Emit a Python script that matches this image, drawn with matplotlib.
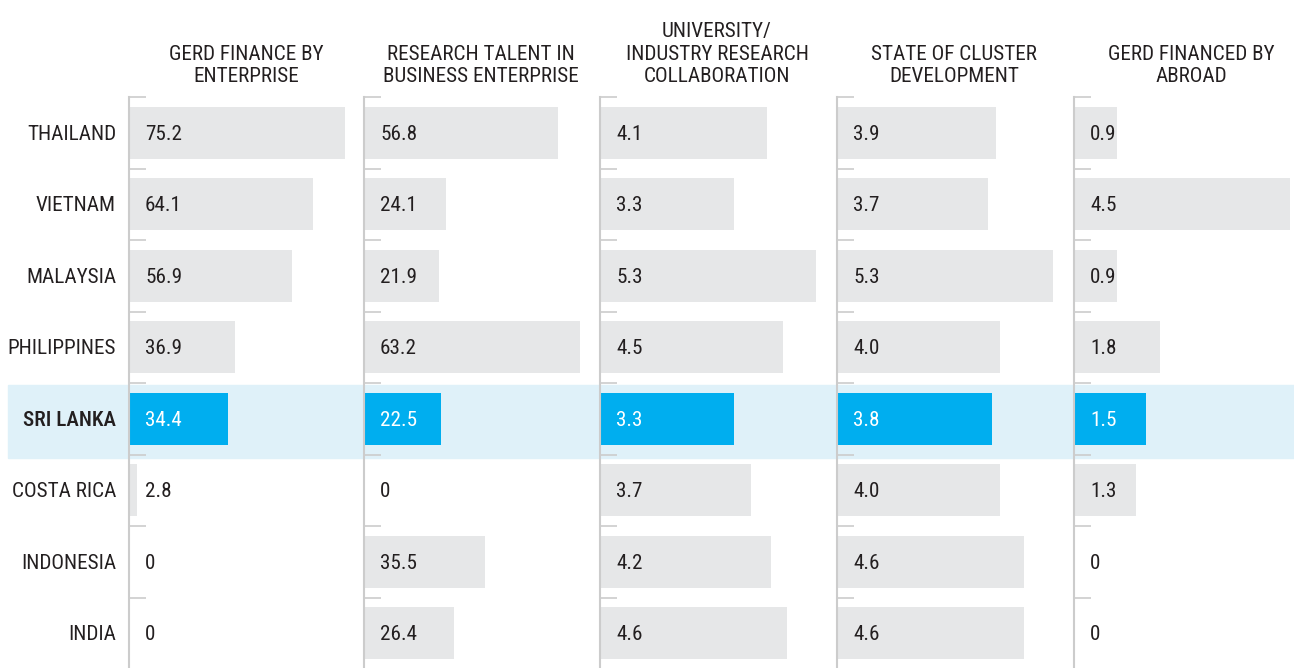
import matplotlib.pyplot as plt
from matplotlib.patches import Rectangle
from matplotlib.transforms import offset_copy

plt.rcParams["font.family"] = ["Roboto Condensed", "Open Sans Condensed",
                               "Arial Narrow", "Roboto", "DejaVu Sans"]
FSIZE = 15.2

# ---- Data ----
countries = ["THAILAND", "VIETNAM", "MALAYSIA", "PHILIPPINES",
             "SRI LANKA", "COSTA RICA", "INDONESIA", "INDIA"]
titles = ["GERD FINANCE BY\nENTERPRISE",
          "RESEARCH TALENT IN\nBUSINESS ENTERPRISE",
          "UNIVERSITY/\nINDUSTRY RESEARCH\nCOLLABORATION",
          "STATE OF CLUSTER\nDEVELOPMENT",
          "GERD FINANCED BY\nABROAD"]
gerd_enterprise = [75.2, 64.1, 56.9, 36.9, 34.4, 2.8, 0, 0]
research_talent = [56.8, 24.1, 21.9, 63.2, 22.5, 0, 35.5, 26.4]
univ_collab = [4.1, 3.3, 5.3, 4.5, 3.3, 3.7, 4.2, 4.6]
cluster_dev = [3.9, 3.7, 5.3, 4.0, 3.8, 4.0, 4.6, 4.6]
gerd_abroad = [0.9, 4.5, 0.9, 1.8, 1.5, 1.3, 0, 0]
series = [gerd_enterprise, research_talent, univ_collab, cluster_dev, gerd_abroad]
labels = [["0" if v == 0 else f"{v:.1f}" for v in s] for s in series]
highlight = "SRI LANKA"

GREY = "#e6e7e8"
BLUE = "#00aeef"
BAND = "#dff1f9"
TEXT = "#231f20"
AXIS = "#cccccc"

W, H = 1294, 668
fig = plt.figure(figsize=(W / 100, H / 100), dpi=100)

# highlight band behind the Sri Lanka row (pixel coords from top)
hi = countries.index(highlight)
band_top, band_bot = 385, 458
fig.patches.append(Rectangle((8 / W, (H - band_bot) / H), (W - 8) / W,
                             (band_bot - band_top) / H,
                             transform=fig.transFigure, color=BAND, zorder=-1))

lefts = [129, 364, 600, 837, 1074]
ax_w = 216
ax_top, ax_bot = 97, 669

for i, (vals, labs) in enumerate(zip(series, labels)):
    ax = fig.add_axes([lefts[i] / W, (H - ax_bot) / H, ax_w / W,
                       (ax_bot - ax_top) / H])
    ax.patch.set_alpha(0)
    colors = [BLUE if c == highlight else GREY for c in countries]
    ax.barh(range(len(countries)), vals, height=0.73, color=colors, zorder=2)
    ax.set_xlim(0, max(vals))
    ax.set_ylim(len(countries) - 0.5, -0.5)

    for side in ["top", "right", "bottom"]:
        ax.spines[side].set_visible(False)
    ax.spines["left"].set_color(AXIS)
    ax.spines["left"].set_linewidth(1.5)
    ax.set_xticks([])
    ax.set_yticks([k - 0.5 for k in range(len(countries) + 1)])
    ax.tick_params(axis="y", direction="in", length=12, width=1.2,
                   color=AXIS, labelleft=False)

    trans = offset_copy(ax.get_yaxis_transform(), fig=fig, x=16, y=-1.5,
                        units="dots")
    for j, lab in enumerate(labs):
        ax.text(0, j, lab, transform=trans, ha="left", va="center",
                fontsize=FSIZE, color="white" if j == hi else TEXT, zorder=3)

    fig.text((lefts[i] + 117) / W, (H - 86) / H, titles[i], ha="center",
             va="bottom", multialignment="center", fontsize=FSIZE,
             color=TEXT, linespacing=1.22)

    if i == 0:
        ltrans = offset_copy(ax.get_yaxis_transform(), fig=fig, x=-13, y=-1.5,
                             units="dots")
        for j, c in enumerate(countries):
            ax.text(0, j, c, transform=ltrans, ha="right", va="center",
                    fontsize=FSIZE, color=TEXT,
                    fontweight="medium" if c == highlight else "normal")

fig.savefig("out.png", dpi=100)
